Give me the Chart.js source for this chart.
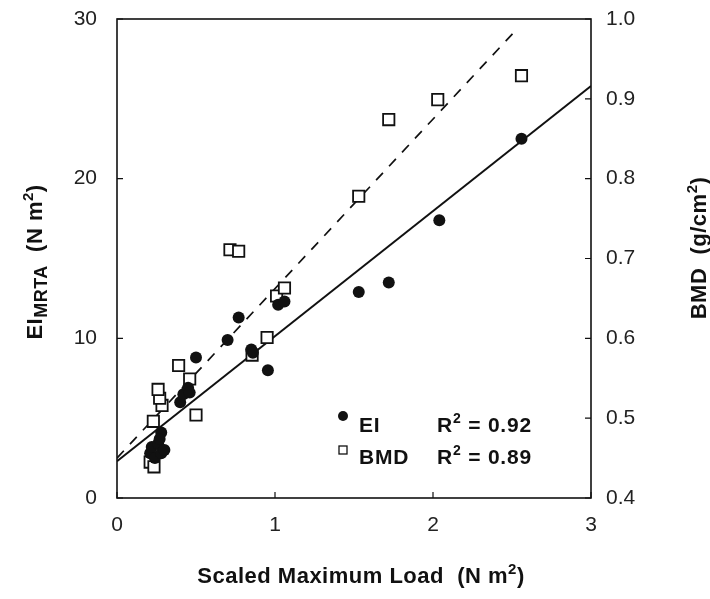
<!DOCTYPE html>
<html>
<head>
<meta charset="utf-8">
<script src="https://cdn.jsdelivr.net/npm/chart.js@4"></script>
<style>
  html, body { margin: 0; padding: 0; background: #fff; }
  #wrap { width: 710px; height: 599px; position: relative; }
</style>
</head>
<body>
<div id="wrap"><canvas id="bone-chart"></canvas></div>
<script>
// EI (filled circles, left axis) -- scaled max load vs EI_MRTA
const eiLoad = [0.21, 0.22, 0.24, 0.26, 0.28, 0.28, 0.27, 0.30, 0.40, 0.42, 0.45, 0.46, 0.50, 0.70, 0.77, 0.85, 0.86, 0.955, 1.02, 1.06, 1.53, 1.72, 2.04, 2.56];
const eiVals = [2.8, 3.2, 2.5, 3.4, 2.8, 4.1, 3.7, 3.0, 6.0, 6.5, 6.9, 6.6, 8.8, 9.9, 11.3, 9.3, 9.1, 8.0, 12.1, 12.3, 12.9, 13.5, 17.4, 22.5];

// BMD (open squares, right axis)
const bmdLoad = [0.21, 0.234, 0.23, 0.285, 0.27, 0.26, 0.39, 0.46, 0.50, 0.715, 0.77, 0.855, 0.95, 1.01, 1.06, 1.53, 1.72, 2.03, 2.56];
const bmdVals = [0.445, 0.439, 0.496, 0.516, 0.525, 0.536, 0.566, 0.549, 0.504, 0.711, 0.709, 0.579, 0.601, 0.653, 0.663, 0.778, 0.874, 0.899, 0.929];

// regression lines (end points)
const eiFitX = [0, 3];
const eiFitY = [2.3, 25.8];
const bmdFitX = [0, 2.52];
const bmdFitY = [0.45, 0.985];

const xTicks = [0, 1, 2, 3];
const eiTicks = [0, 10, 20, 30];
const bmdTicks = [0.4, 0.5, 0.6, 0.7, 0.8, 0.9, 1.0];

const pairs = (xs, ys) => xs.map((x, i) => ({ x: x, y: ys[i] }));

const FONT = '"Liberation Sans", Arial, Helvetica, sans-serif';

// draw a run of text pieces (with sub/superscripts) centred at 0 along the baseline
function drawRuns(ctx, runs, spacing) {
  ctx.letterSpacing = (spacing || 0) + 'px';
  let total = 0;
  runs.forEach(r => { ctx.font = r.font; r.w = ctx.measureText(r.t).width; total += r.w; });
  let x = -total / 2;
  runs.forEach(r => {
    ctx.font = r.font;
    ctx.fillText(r.t, x, r.dy || 0);
    x += r.w;
  });
  ctx.letterSpacing = '0px';
}

// keep the plot box where the reference has it
function fixWidth(w) {
  return s => { s.width = w; s.paddingTop = 0; s.paddingBottom = 0; };
}

const framePlugin = {
  id: 'frame',
  afterDraw(chart) {
    const ctx = chart.ctx;
    const a = chart.chartArea;
    const sx = chart.scales.x, sy = chart.scales.y, sy2 = chart.scales.y2;
    ctx.save();
    ctx.strokeStyle = '#111';
    ctx.lineWidth = 1.6;
    ctx.strokeRect(a.left, a.top, a.right - a.left, a.bottom - a.top);

    // inward ticks
    ctx.lineWidth = 1.2;
    ctx.beginPath();
    xTicks.forEach(v => { const p = sx.getPixelForValue(v); ctx.moveTo(p, a.bottom); ctx.lineTo(p, a.bottom - 6); });
    eiTicks.forEach(v => { const p = sy.getPixelForValue(v); ctx.moveTo(a.left, p); ctx.lineTo(a.left + 6, p); });
    bmdTicks.forEach(v => { const p = sy2.getPixelForValue(v); ctx.moveTo(a.right, p); ctx.lineTo(a.right - 6, p); });
    ctx.stroke();

    ctx.fillStyle = '#111';
    ctx.textBaseline = 'alphabetic';
    const B = s => 'bold ' + s + 'px ' + FONT;

    // x title
    ctx.save();
    ctx.translate(361, 583);
    drawRuns(ctx, [
      { t: 'Scaled Maximum Load  (N m', font: B(22) },
      { t: '2', font: B(15), dy: -9 },
      { t: ')', font: B(22) }
    ], 0.5);
    ctx.restore();

    // left title
    ctx.save();
    ctx.translate(42, 262);
    ctx.rotate(-Math.PI / 2);
    drawRuns(ctx, [
      { t: 'EI', font: B(22) },
      { t: 'MRTA', font: B(18), dy: 5 },
      { t: '  (N m', font: B(22) },
      { t: '2', font: B(15), dy: -9 },
      { t: ')', font: B(22) }
    ], 0.5);
    ctx.restore();

    // right title
    ctx.save();
    ctx.translate(706, 248);
    ctx.rotate(-Math.PI / 2);
    drawRuns(ctx, [
      { t: 'BMD  (g/cm', font: B(22) },
      { t: '2', font: B(15), dy: -9 },
      { t: ')', font: B(22) }
    ], 0.5);
    ctx.restore();

    // legend
    ctx.beginPath();
    ctx.arc(343, 416, 5, 0, Math.PI * 2);
    ctx.fill();
    ctx.lineWidth = 1.3;
    ctx.strokeRect(339, 446, 8, 8);
    ctx.textAlign = 'left';
    ctx.letterSpacing = '0.8px';
    ctx.font = B(21);
    ctx.fillText('EI', 359, 432);
    ctx.fillText('BMD', 359, 464);
    [[432, '0.92'], [464, '0.89']].forEach(([y, r]) => {
      ctx.font = B(21);
      ctx.fillText('R', 437, y);
      let w = ctx.measureText('R').width;
      ctx.font = B(14);
      ctx.fillText('2', 437 + w, y - 9);
      w += ctx.measureText('2').width;
      ctx.font = B(21);
      ctx.fillText(' = ' + r, 437 + w, y);
    });
    ctx.letterSpacing = '0px';
    ctx.restore();
  }
};

const ctx = document.getElementById('bone-chart').getContext('2d');
new Chart(ctx, {
  type: 'scatter',
  data: {
    datasets: [
      {
        label: 'EI',
        data: pairs(eiLoad, eiVals),
        yAxisID: 'y',
        pointStyle: 'circle',
        pointRadius: 6,
        pointBackgroundColor: '#111',
        pointBorderColor: '#111',
        pointBorderWidth: 0
      },
      {
        label: 'BMD',
        data: pairs(bmdLoad, bmdVals),
        yAxisID: 'y2',
        pointStyle: 'rect',
        pointRadius: 8,
        pointBackgroundColor: '#fff',
        pointBorderColor: '#111',
        pointBorderWidth: 1.8
      },
      {
        label: 'EI fit',
        data: pairs(eiFitX, eiFitY),
        yAxisID: 'y',
        showLine: true,
        pointRadius: 0,
        borderColor: '#111',
        borderWidth: 2
      },
      {
        label: 'BMD fit',
        data: pairs(bmdFitX, bmdFitY),
        yAxisID: 'y2',
        showLine: true,
        pointRadius: 0,
        borderColor: '#111',
        borderWidth: 1.7,
        borderDash: [10, 9]
      }
    ]
  },
  options: {
    responsive: true,
    maintainAspectRatio: false,
    animation: false,
    layout: { padding: { top: 19, left: 0, right: 0, bottom: 0 } },
    plugins: {
      legend: { display: false },
      tooltip: { enabled: false }
    },
    scales: {
      x: {
        type: 'linear',
        min: 0, max: 3,
        afterFit: s => { s.height = 101; s.paddingLeft = 0; s.paddingRight = 0; },
        afterBuildTicks: s => { s.ticks = xTicks.map(v => ({ value: v })); },
        grid: { display: false, drawTicks: false },
        border: { display: false },
        ticks: { padding: 15, color: '#222', font: { family: FONT, size: 21 } }
      },
      y: {
        type: 'linear',
        position: 'left',
        min: 0, max: 30,
        afterFit: fixWidth(117),
        afterBuildTicks: s => { s.ticks = eiTicks.map(v => ({ value: v })); },
        grid: { display: false, drawTicks: false },
        border: { display: false },
        ticks: { padding: 20, color: '#222', font: { family: FONT, size: 21 } }
      },
      y2: {
        type: 'linear',
        position: 'right',
        min: 0.4, max: 1.0,
        afterFit: fixWidth(119),
        afterBuildTicks: s => { s.ticks = bmdTicks.map(v => ({ value: v })); },
        grid: { display: false, drawTicks: false },
        border: { display: false },
        ticks: {
          padding: 15, color: '#222', font: { family: FONT, size: 21 },
          callback: v => v.toFixed(1)
        }
      }
    }
  },
  plugins: [framePlugin]
});
</script>
</body>
</html>
